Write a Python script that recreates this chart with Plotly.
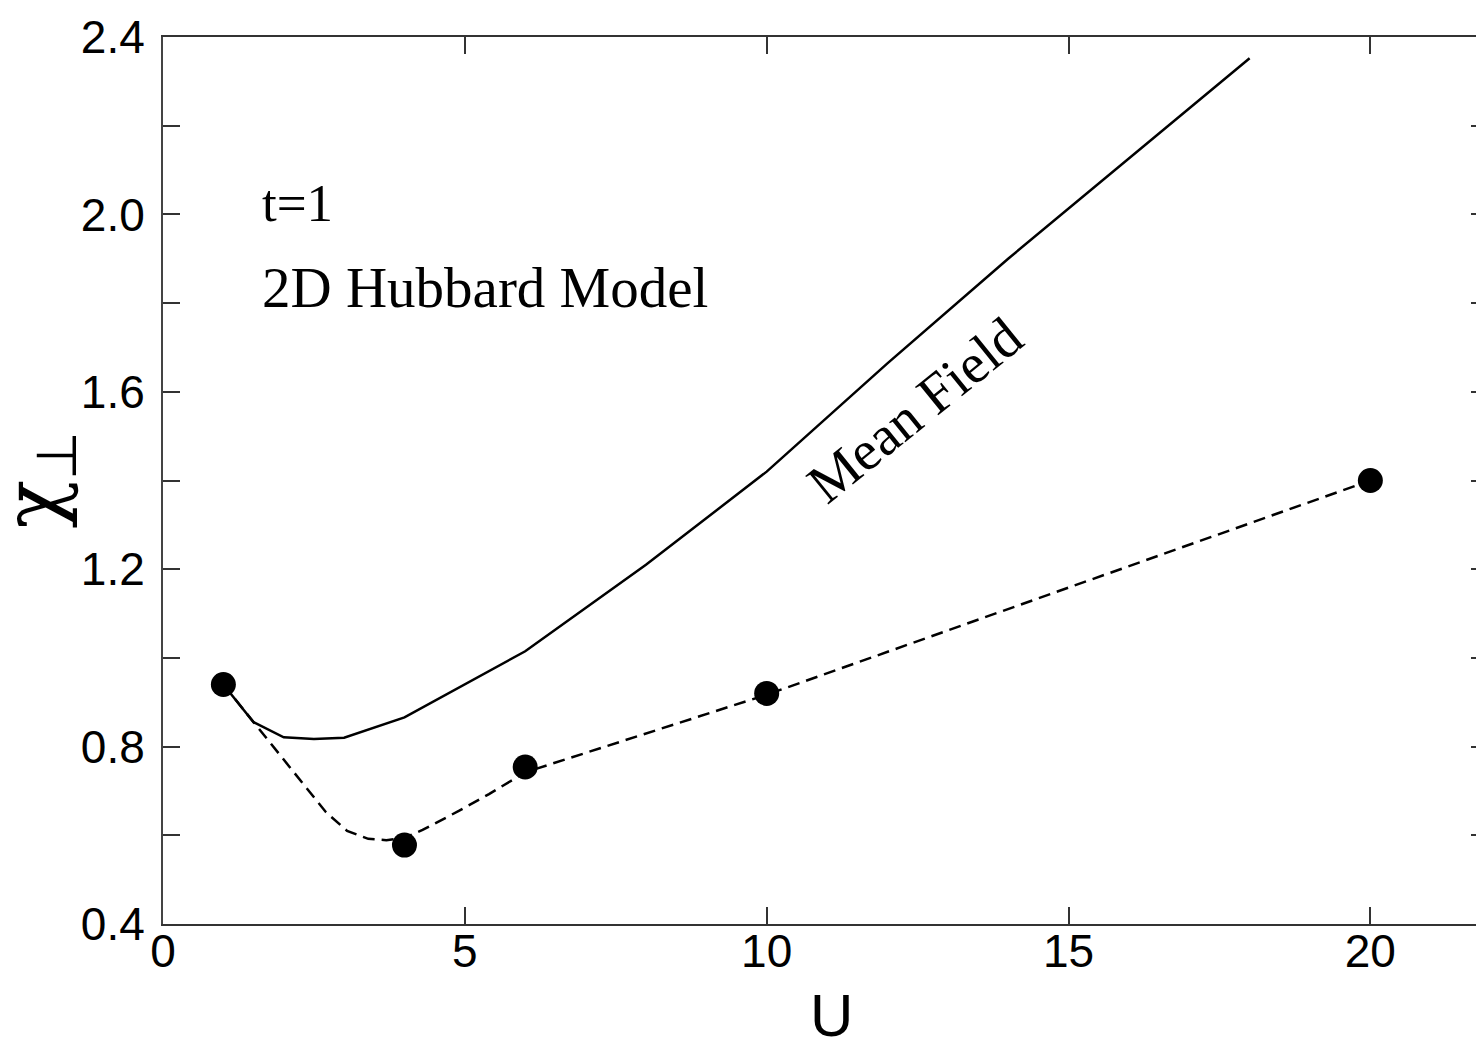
import plotly.graph_objects as go

# Mean-field curve (solid)
mf_u = [1, 1.5, 2, 2.5, 3, 4, 6, 8, 10, 12, 14, 16, 18]
mf_chi = [0.94, 0.855, 0.821, 0.817, 0.82, 0.866, 1.015, 1.21, 1.42, 1.664, 1.90, 2.125, 2.352]

# Guide curve through data (dashed)
fit_u = [1, 1.5, 1.58, 2.1, 2.7, 3.05, 3.4, 3.7, 4.0, 4.3, 4.9, 5.4, 6, 10, 20]
fit_chi = [0.94, 0.855, 0.843, 0.755, 0.652, 0.61, 0.592, 0.589, 0.594, 0.612, 0.655, 0.693, 0.742, 0.917, 1.40]

# Data points
pt_u = [1, 4, 6, 10, 20]
pt_chi = [0.94, 0.578, 0.754, 0.92, 1.40]

x_ticks = [0, 5, 10, 15, 20]
y_ticks = [0.4, 0.8, 1.2, 1.6, 2.0, 2.4]
y_labels = ["0.4", "0.8", "1.2", "1.6", "2.0", "2.4"]

fig = go.Figure()
fig.add_trace(go.Scatter(x=mf_u, y=mf_chi, mode="lines",
                         line=dict(color="black", width=2.5), showlegend=False))
fig.add_trace(go.Scatter(x=fit_u, y=fit_chi, mode="lines",
                         line=dict(color="black", width=2.5, dash="12px,7px"), showlegend=False))
fig.add_trace(go.Scatter(x=pt_u, y=pt_chi, mode="markers",
                         marker=dict(color="black", size=25), showlegend=False))
# invisible trace on right axis for mirrored tick marks
fig.add_trace(go.Scatter(x=[None], y=[None], yaxis="y2", showlegend=False))

axis_font = dict(family="Liberation Sans, Arial, sans-serif", size=46, color="black")

fig.update_layout(
    width=1478, height=1041,
    margin=dict(l=163, r=2, t=37, b=117),
    paper_bgcolor="white", plot_bgcolor="white",
    xaxis=dict(range=[0, 21.75], tickvals=x_ticks, ticks="inside", ticklen=17, tickwidth=1.5,
               tickcolor="#333", showline=True, linecolor="#333", linewidth=2, mirror="ticks",
               showgrid=False, zeroline=False, tickfont=axis_font, automargin=False,
               ticklabelstandoff=-14),
    yaxis=dict(range=[0.4, 2.4], tickvals=y_ticks, ticktext=y_labels, ticks="inside", ticklen=17,
               tickwidth=1.5, tickcolor="#333", showline=True, linecolor="#444", linewidth=2,
               showgrid=False, zeroline=False, tickfont=axis_font, automargin=False,
               ticklabelstandoff=7,
               minor=dict(dtick=0.2, tick0=0.4, ticks="inside", ticklen=17, tickwidth=1.5, tickcolor="#333",
                          showgrid=False)),
    yaxis2=dict(range=[0.4, 2.4], overlaying="y", side="right", showticklabels=False, automargin=False,
                tickvals=y_ticks, ticks="inside", ticklen=5, tickwidth=1.5, tickcolor="#333",
                minor=dict(dtick=0.2, tick0=0.4, ticks="inside", ticklen=5, tickwidth=1.5, tickcolor="#333",
                           showgrid=False),
                showline=False, showgrid=False, zeroline=False),
    annotations=[
        # axis titles
        dict(x=0.5088, y=0, xref="paper", yref="paper", text="U", showarrow=False,
             xanchor="center", yanchor="middle", yshift=-91, height=48, borderpad=0,
             font=dict(family="Liberation Sans, Arial, sans-serif", size=60, color="black")),
        dict(x=0, y=0.5, xref="paper", yref="paper",
             text="<span style='font-family:DejaVu Serif'>χ</span><sub><span style='font-size:56px'>⊥</span></sub>",
             showarrow=False, textangle=-90, xanchor="center", yanchor="middle", xshift=-126,
             font=dict(family="Liberation Sans, Arial, sans-serif", size=80, color="black")),
        # in-plot labels
        dict(x=1.6, y=2.026, xref="x", yref="y", text="t=1", showarrow=False, xanchor="left",
             yanchor="middle", font=dict(family="Liberation Serif, Times New Roman, serif", size=53, color="black")),
        dict(x=1.6, y=1.836, xref="x", yref="y", text="2D Hubbard Model", showarrow=False, xanchor="left",
             yanchor="middle", font=dict(family="Liberation Serif, Times New Roman, serif", size=57, color="black")),
        dict(x=12.45, y=1.56, xref="x", yref="y", text="Mean Field", showarrow=False, textangle=-39,
             xanchor="center", yanchor="middle",
             font=dict(family="Liberation Serif, Times New Roman, serif", size=56, color="black")),
    ],
)

fig.write_html("out.html", config={"displayModeBar": False},
               post_script="document.body.style.margin='0';document.body.style.overflow='hidden';")
